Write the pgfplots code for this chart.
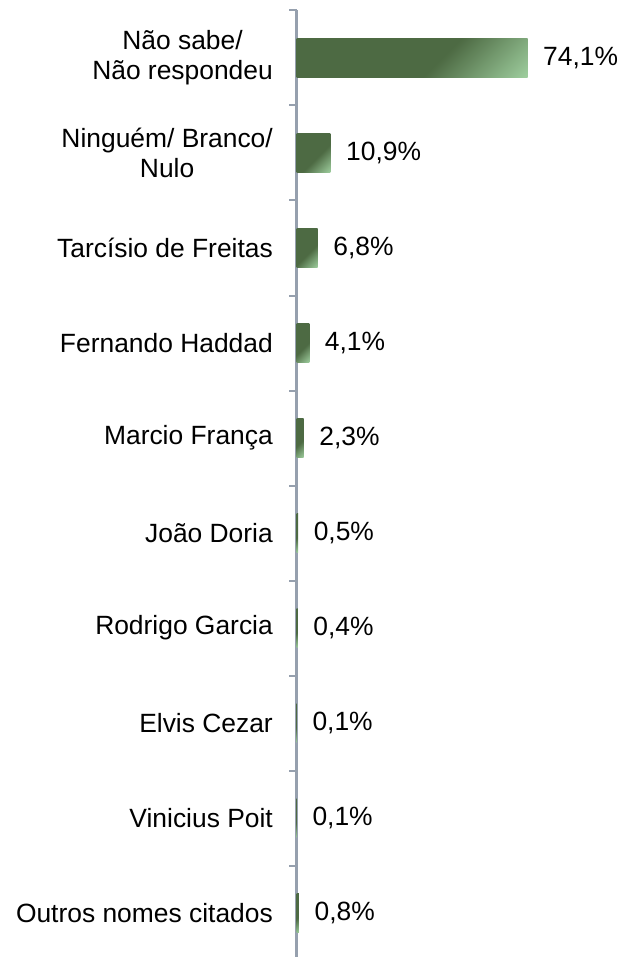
\documentclass[border=0pt]{standalone}
\usepackage{fontspec}
\setmainfont{Liberation Sans}
\usepackage{pgfplots}
\pgfplotsset{compat=1.18}
\definecolor{barD}{RGB}{77,106,67}
\definecolor{barL}{RGB}{160,208,160}
\definecolor{axgray}{RGB}{150,160,174}
\pgfdeclarehorizontalshading{bargrad}{100bp}{color(0bp)=(barD); color(58bp)=(barD); color(86bp)=(barL); color(100bp)=(barL)}
\newcommand{\lab}{\fontsize{26.4bp}{30bp}\selectfont}
\pgfplotsset{mybar/.style={xbar, bar width=39bp, draw=none, shade, shading=bargrad, shading angle=-45,
  point meta=x,
  nodes near coords={\pgfmathprintnumber[fixed,fixed zerofill,precision=1,use comma,assume math mode=true]{\pgfplotspointmeta}\%},
  nodes near coords style={anchor=west, inner sep=0pt, xshift=15.5bp, font=\lab, text=black}}}
\begin{document}
\begin{tikzpicture}
\useasboundingbox (0,0) rectangle (622bp,957bp);
\begin{axis}[
  at={(296.5bp,-3.5bp)}, anchor=south west,
  scale only axis, width=280.6bp, height=950bp,
  xmin=0, xmax=90, ymin=-0.5, ymax=9.5, y dir=reverse,
  axis x line=none, axis y line*=left,
  axis line style={-, draw=axgray, line width=2bp},
  every outer y axis line/.append style={-, draw=axgray, line width=2bp},
  ytick={0,...,9},
  yticklabels={{Não sabe/\\Não respondeu},{Ninguém/ Branco/\\Nulo},{Tarcísio de Freitas},{Fernando Haddad},{Marcio França},{João Doria},{Rodrigo Garcia},{Elvis Cezar},{Vinicius Poit},{Outros nomes citados}},
  major tick length=0pt,
  minor ytick={-0.5,0.5,...,9.5},
  minor tick length=7bp,
  tick align=outside,
  minor tick style={draw=axgray, line width=2bp},
  yticklabel style={align=center, font=\lab, inner sep=0pt, text=black},
  yticklabel shift=23.5bp,
  clip=false,
]
\addplot[mybar] coordinates {(74.1,0)};
\addplot[mybar] coordinates {(10.9,1)};
\addplot[mybar] coordinates {(6.8,2)};
\addplot[mybar] coordinates {(4.1,3)};
\addplot[mybar] coordinates {(2.3,4)};
\addplot[mybar] coordinates {(0.5,5)};
\addplot[mybar] coordinates {(0.4,6)};
\addplot[mybar] coordinates {(0.1,7)};
\addplot[mybar] coordinates {(0.1,8)};
\addplot[mybar] coordinates {(0.8,9)};
\end{axis}
\end{tikzpicture}
\end{document}
